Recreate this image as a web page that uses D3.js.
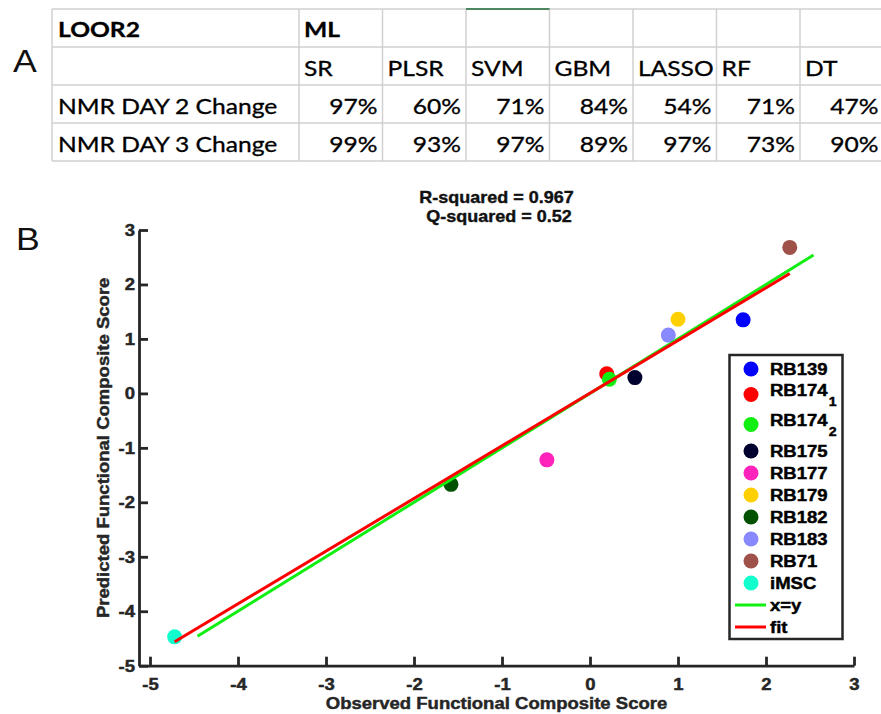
<!DOCTYPE html>
<html><head><meta charset="utf-8">
<script src="https://cdn.jsdelivr.net/npm/d3@7"></script>
<style>
html,body{margin:0;padding:0;background:#fff;}
svg{display:block;}
</style></head>
<body>
<svg id="fig" width="881" height="714"></svg>
<script>
// ---- Panel A: leave-one-out table ----
const tableTitle = "LOOR2";
const groupLabel = "ML";
const methods = ["SR", "PLSR", "SVM", "GBM", "LASSO", "RF", "DT"];
const rowLabels = ["NMR DAY 2 Change", "NMR DAY 3 Change"];
const day2Values = [97, 60, 71, 84, 54, 71, 47];
const day3Values = [99, 93, 97, 89, 97, 73, 90];

// ---- Panel B: observed vs predicted composite score ----
const sampleNames = ["RB139", "RB174", "RB174", "RB175", "RB177", "RB179", "RB182", "RB183", "RB71", "iMSC"];
const sampleSubs = ["", "1", "2", "", "", "", "", "", "", ""];
const observed = [1.74, 0.19, 0.22, 0.51, -0.49, 1.00, -1.58, 0.89, 2.27, -4.72];
const predicted = [1.35, 0.36, 0.26, 0.29, -1.22, 1.36, -1.67, 1.07, 2.68, -4.47];
const sampleColors = ["#0000ff", "#ff0000", "#11ee11", "#00002e", "#ff22bb", "#ffd000", "#005200", "#8888ff", "#9e5249", "#11ffcc"];
const identityX = [-4.46, 2.54];
const fitX = [-4.72, 2.27];
const fitY = [-4.56, 2.20];
const xTicks = [-5, -4, -3, -2, -1, 0, 1, 2, 3];
const yTicks = [-5, -4, -3, -2, -1, 0, 1, 2, 3];
const statLines = ["R-squared = 0.967", " Q-squared = 0.52"];
const xLabel = "Observed Functional Composite Score";
const yLabel = "Predicted Functional Composite Score";

const svg = d3.select("#fig");
const ink = "#262626";
const SX = 1.09;           // horizontal stretch of chart lettering
const TSX = 1.2;           // horizontal stretch of table lettering
const FS = 17;             // chart font size
const chartFont = "'Liberation Sans', Arial, Helvetica, sans-serif";
const tableFont = "Lato, 'Open Sans', sans-serif";
const fmt = d => String(d); // plain hyphen-minus labels

// heavier rendering of bold chart lettering
function heavy(sel, color, w) {
  return sel.attr("stroke", color).attr("stroke-width", w).attr("stroke-linejoin", "round");
}

// panel letters
function panelLetter(t, x, y) {
  svg.append("text").attr("transform", `translate(${x},${y}) scale(1.15,1)`)
    .attr("text-anchor", "middle").attr("font-family", chartFont)
    .attr("font-size", 31).attr("fill", "#111").text(t);
}
panelLetter("A", 25, 72);
panelLetter("B", 28, 250);

// ---- table ----
const tab = svg.append("g");
const tLeft = 52, firstColW = 247, colW = 83.5, rowH = 38, tTop = 9;
const colEdges = [tLeft, tLeft + firstColW].concat(methods.map((m, i) => tLeft + firstColW + colW * (i + 1)));
const rowEdges = d3.range(5).map(i => tTop + i * rowH);
const gridColor = "#d0d0d0";
rowEdges.forEach(y => tab.append("line").attr("x1", tLeft).attr("x2", 881).attr("y1", y).attr("y2", y)
  .attr("stroke", gridColor).attr("stroke-width", 1.5));
colEdges.forEach(x => tab.append("line").attr("x1", x).attr("x2", x).attr("y1", tTop).attr("y2", rowEdges[4])
  .attr("stroke", gridColor).attr("stroke-width", 1.5));
// active-cell marker on the SVM header
tab.append("line").attr("x1", colEdges[3]).attr("x2", colEdges[4]).attr("y1", tTop).attr("y2", tTop)
  .attr("stroke", "#1e6b3a").attr("stroke-width", 1.5);

function cell(t, x, y, anchor, bold) {
  const el = tab.append("text").attr("transform", `translate(${x},${y}) scale(${TSX},1)`)
    .attr("text-anchor", anchor).attr("font-family", tableFont)
    .attr("font-weight", bold ? 700 : 400).attr("font-size", 20.5).attr("fill", "#000").text(t);
  heavy(el, "#000", 0.3);
}
const baseOff = 28;
cell(tableTitle, tLeft + 6, rowEdges[0] + baseOff, "start", true);
cell(groupLabel, colEdges[1] + 5, rowEdges[0] + baseOff, "start", true);
methods.forEach((m, i) => cell(m, colEdges[i + 1] + 5, rowEdges[1] + baseOff + 1, "start", false));
[day2Values, day3Values].forEach((vals, r) => {
  cell(rowLabels[r], tLeft + 6, rowEdges[r + 2] + baseOff + 1, "start", false);
  vals.forEach((v, i) => cell(v + "%", colEdges[i + 2] - 5, rowEdges[r + 2] + baseOff + 1, "end", false));
});

// ---- scatter ----
const x = d3.scaleLinear().domain([-5.125, 3]).range([139, 854]);
const y = d3.scaleLinear().domain([-5, 3]).range([665.7, 230]);

const gx = svg.append("g").attr("transform", `translate(0,${y(-5)})`)
  .call(d3.axisBottom(x).tickValues(xTicks).tickFormat(fmt).tickSizeInner(-9).tickSizeOuter(0).tickPadding(12));
const gy = svg.append("g").attr("transform", `translate(${x(-5.125)},0)`)
  .call(d3.axisLeft(y).tickValues(yTicks).tickFormat(fmt).tickSizeInner(-9).tickSizeOuter(0).tickPadding(4));
[gx, gy].forEach(g => {
  g.select(".domain").attr("stroke", ink).attr("stroke-width", 2.8);
  g.selectAll(".tick line").attr("stroke", ink).attr("stroke-width", 2.8);
  heavy(g.selectAll(".tick text").attr("font-family", chartFont).attr("font-weight", 700)
    .attr("font-size", FS).attr("fill", ink).attr("transform", `scale(${SX},1)`), ink, 0.45);
});
gx.selectAll(".tick text").attr("x", 0);
gy.selectAll(".tick text").attr("x", -4 / SX);

// title
statLines.forEach((t, i) => heavy(svg.append("text")
  .attr("transform", `translate(${(x(-5.125) + x(3)) / 2},${203 + i * 19}) scale(${SX},1)`)
  .attr("text-anchor", "middle").attr("font-family", chartFont).attr("font-weight", 700)
  .attr("font-size", 16.5).attr("fill", "#111").style("white-space", "pre").text(t), "#111", 0.4));

// axis labels
heavy(svg.append("text").attr("transform", `translate(${(x(-5.125) + x(3)) / 2},709) scale(${SX},1)`)
  .attr("text-anchor", "middle").attr("font-family", chartFont).attr("font-weight", 700)
  .attr("font-size", FS).attr("fill", ink).text(xLabel), ink, 0.45);
heavy(svg.append("text").attr("transform", `translate(109,${(y(-5) + y(3)) / 2}) rotate(-90) scale(${SX},1)`)
  .attr("text-anchor", "middle").attr("font-family", chartFont).attr("font-weight", 700)
  .attr("font-size", FS).attr("fill", ink).text(yLabel), ink, 0.45);

// points
const samples = sampleNames.map((n, i) => ({ name: n, sub: sampleSubs[i], ox: observed[i], py: predicted[i], color: sampleColors[i] }));
svg.append("g").selectAll("circle").data(samples).join("circle")
  .attr("cx", d => x(d.ox)).attr("cy", d => y(d.py)).attr("r", 7.5).attr("fill", d => d.color);

// reference x=y and fitted line
const line = d3.line().x(d => x(d[0])).y(d => y(d[1]));
svg.append("path").attr("d", line(identityX.map(v => [v, v])))
  .attr("stroke", "#11ee11").attr("stroke-width", 3).attr("fill", "none");
svg.append("path").attr("d", line(fitX.map((v, i) => [v, fitY[i]])))
  .attr("stroke", "#ff0000").attr("stroke-width", 3).attr("fill", "none");

// legend
const leg = svg.append("g");
const legItems = samples.map(d => ({ kind: "dot", name: d.name, sub: d.sub, color: d.color }))
  .concat([{ kind: "line", name: "x=y", sub: "", color: "#11ee11" }, { kind: "line", name: "fit", sub: "", color: "#ff0000" }]);
const legLeft = 729.5, legRight = 842.5, legTop = 355, legBottom = 639;
leg.append("rect").attr("x", legLeft).attr("y", legTop).attr("width", legRight - legLeft).attr("height", legBottom - legTop)
  .attr("fill", "#fff").attr("stroke", ink).attr("stroke-width", 2.5);
let rowTop = legTop + 3;
legItems.forEach(d => {
  const h = d.sub ? 30 : 22;
  const cy = d.sub ? rowTop + 14.5 : rowTop + h / 2;
  if (d.kind === "dot") {
    leg.append("circle").attr("cx", 751).attr("cy", cy).attr("r", 7.5).attr("fill", d.color);
  } else {
    leg.append("line").attr("x1", 735).attr("x2", 766).attr("y1", cy).attr("y2", cy)
      .attr("stroke", d.color).attr("stroke-width", 3);
  }
  const t = leg.append("text").attr("transform", `translate(770,${d.sub ? cy + 1 : cy + 6}) scale(${SX},1)`)
    .attr("font-family", chartFont).attr("font-weight", 700).attr("font-size", FS).attr("fill", "#000");
  heavy(t, "#000", 0.45);
  t.append("tspan").text(d.name);
  if (d.sub) t.append("tspan").attr("dx", 1).attr("dy", 10).attr("font-size", 13).text(d.sub);
  rowTop += h;
});
</script>
</body></html>
